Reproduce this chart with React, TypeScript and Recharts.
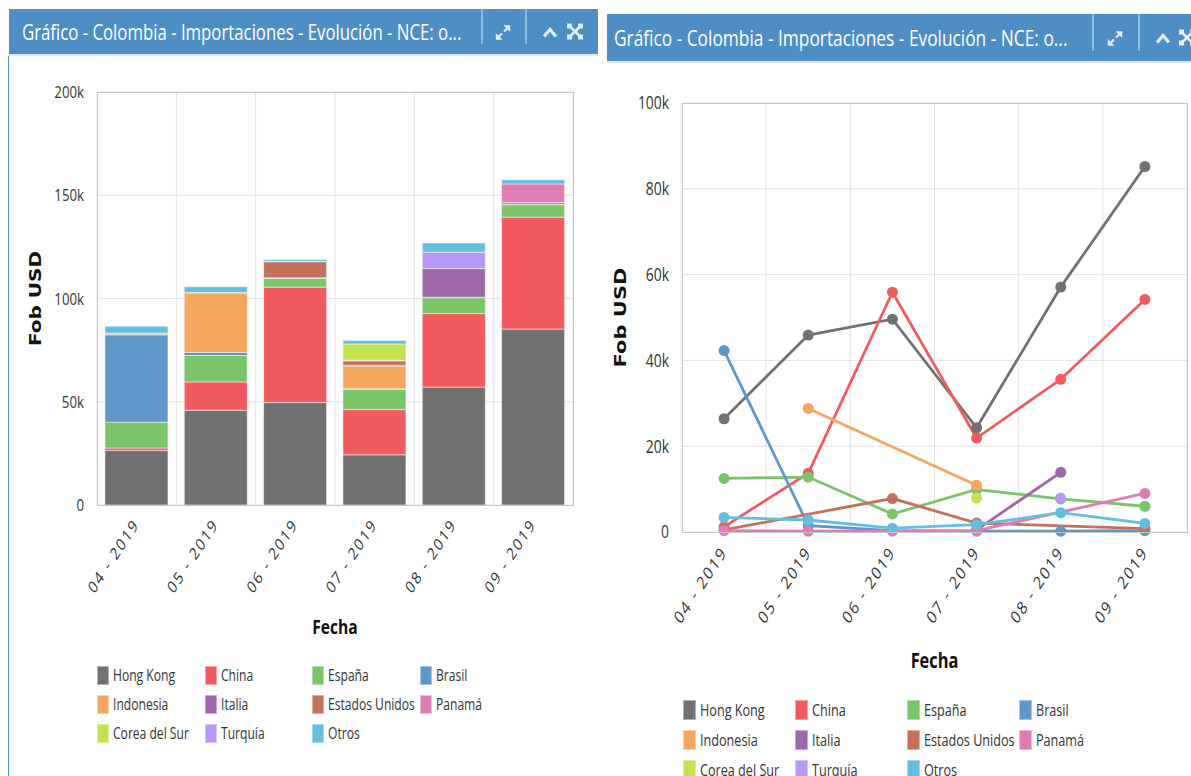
import React from 'react';
import { BarChart, Bar, ComposedChart, Line, XAxis, YAxis, CartesianGrid } from 'recharts';

// Fob USD per month and origin country
const months = ['04 - 2019', '05 - 2019', '06 - 2019', '07 - 2019', '08 - 2019', '09 - 2019'];

const hongKong = [26400, 45900, 49600, 24300, 57100, 85200];
const china = [1200, 13700, 55900, 21900, 35600, 54200];
const espana = [12500, 12800, 4200, 9900, 7700, 6000];
const brasil = [42300, 1500, 300, 200, 200, 300];
const indonesia = [null, 28800, null, 10900, null, null];
const italia = [null, null, null, 500, 13900, null];
const estadosUnidos = [500, null, 7800, 2100, null, 800];
const panama = [300, 200, 200, 300, null, 9000];
const coreaDelSur = [null, null, null, 7900, null, null];
const turquia = [null, null, null, null, 7900, null];
const otros = [3400, 2800, 900, 1700, 4500, 2000];

const barTicks = [0, 50000, 100000, 150000, 200000];
const lineTicks = [0, 20000, 40000, 60000, 80000, 100000];

const title = 'Gráfico - Colombia - Importaciones - Evolución - NCE: o...';

const series = [
  { key: 'hongKong', name: 'Hong Kong', color: '#717171', values: hongKong },
  { key: 'china', name: 'China', color: '#f15b60', values: china },
  { key: 'espana', name: 'España', color: '#7bc46a', values: espana },
  { key: 'brasil', name: 'Brasil', color: '#5e97c8', values: brasil },
  { key: 'indonesia', name: 'Indonesia', color: '#f6a65e', values: indonesia },
  { key: 'italia', name: 'Italia', color: '#9d67aa', values: italia },
  { key: 'estadosUnidos', name: 'Estados Unidos', color: '#c5705b', values: estadosUnidos },
  { key: 'panama', name: 'Panamá', color: '#e07cb4', values: panama },
  { key: 'coreaDelSur', name: 'Corea del Sur', color: '#c2e34f', values: coreaDelSur },
  { key: 'turquia', name: 'Turquía', color: '#b897fb', values: turquia },
  { key: 'otros', name: 'Otros', color: '#62bfdf', values: otros },
];

const rows = months.map((month, i) => {
  const row: Record<string, string | number | null> = { month };
  series.forEach((s) => {
    row[s.key] = s.values[i];
  });
  return row;
});

// the dashboard font renders narrow, so text gets squeezed horizontally
const SX = 0.78;
const HEADER_BLUE = '#4f8ec4';
const TEXT = '#333';

const fmtK = (v: number) => (v === 0 ? '0' : `${v / 1000}k`);

// grid lines between categories instead of through their centres
const bandEdges = ({ offset }: any) =>
  Array.from({ length: months.length + 1 }, (_, i) => offset.left + (offset.width * i) / months.length);

const ValueTick = ({ x, y, payload, size }: any) => (
  <g transform={`translate(${x},${y}) scale(${SX},1)`}>
    <text textAnchor="end" dy="0.36em" fontFamily="Open Sans" fontSize={size} fill={TEXT}>
      {fmtK(payload.value)}
    </text>
  </g>
);

const MonthTick = ({ x, y, payload, size, dx, dy }: any) => (
  <g transform={`translate(${x + dx},${y + dy}) scale(${SX},1) rotate(-50)`}>
    <text textAnchor="end" fontFamily="Open Sans" fontSize={size} letterSpacing={2} fill={TEXT}>
      {payload.value}
    </text>
  </g>
);

const fechaLabel = (dy: number, size: number) => (props: any) => {
  const vb = props.viewBox || {};
  return (
    <g transform={`translate(${vb.x + vb.width / 2},${vb.y + dy}) scale(${SX},1)`}>
      <text textAnchor="middle" dy="0.36em" fontFamily="Open Sans" fontWeight="bold" fontSize={size} fill="#111">
        Fecha
      </text>
    </g>
  );
};

const fobLabel = (cx: number, size: number) => (props: any) => {
  const vb = props.viewBox || {};
  return (
    <g transform={`translate(${vb.x + cx},${vb.y + vb.height / 2}) scale(${SX},1) rotate(-90)`}>
      <text textAnchor="middle" dy="0.36em" fontFamily="DejaVu Sans" fontWeight="bold" fontSize={size} fill="#111">
        Fob USD
      </text>
    </g>
  );
};

const Header = ({ left, top, width, height, size, textX, seps, arrowX, caretX, fullX }: any) => {
  const cy = height / 2 + 1;
  const ic = '#e3eff8';
  return (
    <div
      style={{
        position: 'absolute',
        left,
        top,
        width,
        height,
        background: HEADER_BLUE,
        borderBottom: '2px solid #dbe6ef',
        overflow: 'hidden',
      }}
    >
      <span
        style={{
          position: 'absolute',
          left: textX,
          top: 0,
          lineHeight: `${height}px`,
          fontFamily: 'Open Sans',
          fontSize: size,
          color: '#fff',
          whiteSpace: 'nowrap',
          transform: `scaleX(${SX})`,
          transformOrigin: 'left center',
        }}
      >
        {title}
      </span>
      <svg width={width} height={height} style={{ position: 'absolute', left: 0, top: 0 }}>
        {seps.map((sx: number) => (
          <line key={sx} x1={sx} x2={sx} y1={0} y2={height - 10} stroke="#d5e6f3" strokeWidth={1} />
        ))}
        <g fill={ic} stroke={ic} strokeWidth={2.2}>
          <line x1={arrowX - 5} y1={cy + 5} x2={arrowX - 1} y2={cy + 1} />
          <line x1={arrowX + 1} y1={cy - 1} x2={arrowX + 5} y2={cy - 5} />
          <polygon points={`${arrowX + 7},${cy - 7} ${arrowX + 1},${cy - 7} ${arrowX + 7},${cy - 1}`} strokeWidth={0.5} />
          <polygon points={`${arrowX - 7},${cy + 7} ${arrowX - 1},${cy + 7} ${arrowX - 7},${cy + 1}`} strokeWidth={0.5} />
        </g>
        <polyline
          points={`${caretX - 6},${cy + 4} ${caretX},${cy - 3} ${caretX + 6},${cy + 4}`}
          fill="none"
          stroke={ic}
          strokeWidth={3.2}
        />
        <g stroke={ic} strokeWidth={2.6} fill={ic}>
          <line x1={fullX - 6} y1={cy - 7} x2={fullX + 6} y2={cy + 5} />
          <line x1={fullX + 6} y1={cy - 7} x2={fullX - 6} y2={cy + 5} />
          <rect x={fullX - 8} y={cy - 9} width={5} height={5} strokeWidth={0} />
          <rect x={fullX + 3} y={cy - 9} width={5} height={5} strokeWidth={0} />
          <rect x={fullX - 8} y={cy + 2} width={5} height={5} strokeWidth={0} />
          <rect x={fullX + 3} y={cy + 2} width={5} height={5} strokeWidth={0} />
        </g>
      </svg>
    </div>
  );
};

const LegendGrid = ({ colX, rowY, sw, sh, gap, size }: any) => (
  <>
    {series.map((s, i) => {
      const x = colX[i % 4];
      const y = rowY[Math.floor(i / 4)];
      return (
        <div key={s.key}>
          <div
            style={{
              position: 'absolute',
              left: x,
              top: y - sh / 2,
              width: sw,
              height: sh,
              boxSizing: 'border-box',
              background: s.color,
              border: '1px solid rgba(255,255,255,0.45)',
            }}
          />
          <span
            style={{
              position: 'absolute',
              left: x + sw + gap,
              top: y - 12,
              lineHeight: '24px',
              fontFamily: 'Open Sans',
              fontSize: size,
              color: TEXT,
              whiteSpace: 'nowrap',
              transform: `scaleX(${SX})`,
              transformOrigin: 'left center',
            }}
          >
            {s.name}
          </span>
        </div>
      );
    })}
  </>
);

const Frame = ({ left, top, width, height }: any) => (
  <div
    style={{
      position: 'absolute',
      left: left - 0.5,
      top: top - 0.5,
      width: width + 1,
      height: height + 1,
      boxSizing: 'border-box',
      border: '1px solid #c6c6c6',
      pointerEvents: 'none',
    }}
  />
);

const StackedPanel = () => (
  <>
    <Header
      left={9}
      top={9}
      width={589}
      height={45}
      size={21.5}
      textX={13}
      seps={[473, 517]}
      arrowX={494}
      caretX={541}
      fullX={566}
    />
    <div style={{ position: 'absolute', left: 8, top: 56, width: 1, height: 720, background: HEADER_BLUE }} />
    <div style={{ position: 'absolute', left: 9, top: 54 }}>
      <BarChart
        width={590}
        height={722}
        data={rows}
        margin={{ top: 38, right: 26, bottom: 121, left: 0 }}
        barCategoryGap="10%"
      >
        <CartesianGrid stroke="#e4e4e4" verticalCoordinatesGenerator={bandEdges} />
        <XAxis
          dataKey="month"
          height={150}
          axisLine={false}
          tickLine={false}
          tickSize={0}
          tickMargin={0}
          interval={0}
          tick={<MonthTick size={17} dx={3} dy={20} />}
          label={{ content: fechaLabel(122, 20) }}
        />
        <YAxis
          width={88}
          domain={[0, 200000]}
          ticks={barTicks}
          axisLine={false}
          tickLine={false}
          tickSize={0}
          tickMargin={13}
          tick={<ValueTick size={17} />}
          label={{ content: fobLabel(26, 20) }}
        />
        {series.map((s) => (
          <Bar
            key={s.key}
            dataKey={s.key}
            name={s.name}
            stackId="fob"
            fill={s.color}
            stroke="#ffffff"
            strokeOpacity={0.5}
            strokeWidth={1}
            isAnimationActive={false}
          />
        ))}
      </BarChart>
    </div>
    <Frame left={97} top={92} width={476} height={413} />
    <LegendGrid colX={[97, 205, 312, 420]} rowY={[675, 704, 733]} sw={12} sh={19} gap={4} size={15.5} />
  </>
);

// plot is 505px wide with six categories; points sit in the middle of each slot
const LINE_PAD = 505 / months.length / 2;

const LinePanel = () => (
  <>
    <Header
      left={607}
      top={14}
      width={600}
      height={47}
      size={22.2}
      textX={7}
      seps={[486, 532]}
      arrowX={508}
      caretX={556}
      fullX={580}
    />
    <div style={{ position: 'absolute', left: 607, top: 62 }}>
      <ComposedChart width={584} height={714} data={rows} margin={{ top: 41, right: 4, bottom: 94, left: 0 }}>
        <CartesianGrid stroke="#e4e4e4" verticalCoordinatesGenerator={bandEdges} />
        <XAxis
          dataKey="month"
          height={150}
          axisLine={false}
          tickLine={false}
          tickSize={0}
          tickMargin={0}
          interval={0}
          padding={{ left: LINE_PAD, right: LINE_PAD }}
          tick={<MonthTick size={17.8} dx={3.5} dy={21} />}
          label={{ content: fechaLabel(128, 21) }}
        />
        <YAxis
          width={75}
          domain={[0, 100000]}
          ticks={lineTicks}
          axisLine={false}
          tickLine={false}
          tickSize={0}
          tickMargin={13}
          tick={<ValueTick size={17.8} />}
          label={{ content: fobLabel(13, 21) }}
        />
        {series.map((s) => (
          <Line
            key={s.key}
            type="linear"
            dataKey={s.key}
            name={s.name}
            stroke={s.color}
            strokeWidth={2.8}
            connectNulls
            dot={{ r: 5.5, fill: s.color, stroke: s.color, strokeWidth: 0 }}
            activeDot={false}
            isAnimationActive={false}
          />
        ))}
      </ComposedChart>
    </div>
    <Frame left={682} top={103} width={505} height={429} />
    <LegendGrid colX={[683, 795, 907, 1019]} rowY={[710, 740, 770]} sw={13} sh={20} gap={4} size={16.2} />
  </>
);

export default function App() {
  return (
    <div
      style={{
        position: 'absolute',
        left: 0,
        top: 0,
        width: 1191,
        height: 776,
        overflow: 'hidden',
        background: '#fff',
        fontFamily: 'Open Sans',
      }}
    >
      <StackedPanel />
      <LinePanel />
    </div>
  );
}
